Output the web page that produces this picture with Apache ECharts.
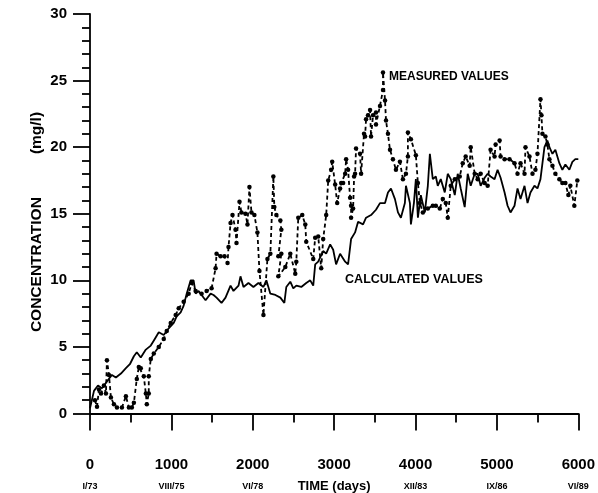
<!DOCTYPE html>
<html>
<head>
<meta charset="utf-8">
<script src="https://cdn.jsdelivr.net/npm/echarts@6/dist/echarts.min.js"></script>
<style>
html,body{margin:0;padding:0;background:#fff;}
#c{width:598px;height:493px;}
</style>
</head>
<body>
<div id="c"></div>
<script>
// ---- data ----
const calcDays = [0,49,98,147,208,269,318,380,441,490,539,575,624,686,747,796,845,906,967,1029,1065,1114,1151,1188,1237,1273,1298,1335,1371,1420,1482,1518,1555,1616,1665,1727,1763,1825,1849,1886,1947,2008,2069,2131,2167,2216,2278,2339,2388,2412,2461,2498,2535,2596,2657,2706,2743,2767,2804,2865,2902,2951,2988,3024,3073,3135,3171,3208,3257,3294,3355,3392,3453,3514,3563,3625,3661,3698,3747,3784,3820,3869,3882,3931,3943,3980,4004,4029,4065,4114,4151,4176,4212,4249,4273,4310,4359,4396,4433,4482,4518,4555,4604,4641,4678,4727,4763,4800,4849,4886,4922,4971,5008,5045,5094,5131,5167,5216,5253,5290,5339,5376,5412,5461,5498,5535,5584,5620,5645,5682,5718,5767,5804,5841,5890,5927,5963,6000];
const calcValues = [0.4,1.7,2.1,1.9,2.4,2.9,2.7,3.0,3.4,3.7,4.3,4.6,4.2,4.8,5.1,5.6,6.1,5.9,6.4,6.8,7.3,7.6,8.1,9.0,10.0,10.0,9.0,9.2,8.9,8.5,9.0,8.9,8.7,8.3,8.7,9.6,9.2,9.6,10.3,9.5,9.8,9.5,9.8,9.5,10.0,9.0,8.9,8.7,8.3,9.5,9.9,9.4,9.6,9.5,9.8,10.0,9.6,11.2,11.4,12.2,12.0,12.7,12.3,11.2,12.0,11.4,11.2,13.1,13.6,14.4,14.2,14.7,14.9,15.3,15.8,15.8,16.6,16.9,16.1,15.1,14.7,15.8,17.1,15.8,14.2,15.8,17.6,14.7,16.4,15.1,17.1,19.5,17.6,17.8,17.1,17.6,16.6,18.0,17.6,16.4,18.0,16.9,15.5,18.0,17.1,18.0,18.0,17.1,17.7,18.0,17.8,17.6,18.3,17.7,16.6,15.6,15.1,15.6,16.9,16.1,17.1,15.8,16.6,17.1,16.9,17.6,20.0,20.5,20.0,19.5,19.8,18.8,18.3,18.7,18.3,18.9,19.1,19.1];

const measDays = [61,86,110,135,171,196,208,233,257,294,331,392,441,478,514,539,575,600,624,661,686,698,722,722,747,784,845,906,943,992,1053,1090,1151,1212,1249,1298,1371,1433,1494,1543,1555,1604,1653,1690,1702,1727,1751,1788,1800,1837,1861,1910,1935,1959,1984,2020,2057,2082,2131,2180,2216,2253,2265,2290,2339,2351,2314,2351,2314,2400,2461,2522,2535,2559,2608,2645,2657,2743,2767,2804,2841,2865,2902,2927,2963,2976,3012,3037,3073,3086,3110,3135,3147,3171,3196,3208,3208,3233,3245,3257,3269,3318,3331,3367,3380,3392,3416,3441,3453,3478,3514,3514,3563,3600,3600,3625,3637,3661,3686,3722,3759,3808,3845,3882,3906,3906,3943,4004,4029,4053,4090,4151,4212,4249,4298,4335,4371,4396,4433,4482,4543,4580,4616,4665,4678,4727,4763,4800,4849,4886,4922,4971,4984,5033,5045,5094,5155,5216,5253,5290,5339,5351,5400,5437,5473,5498,5535,5547,5559,5596,5620,5645,5682,5718,5767,5804,5841,5878,5902,5951,5988];
const measValues = [1.0,0.5,1.8,1.5,2.1,1.5,4.0,2.9,1.2,0.7,0.45,0.45,1.3,0.45,0.45,0.8,2.6,3.5,3.4,2.8,1.5,0.7,1.5,2.8,4.1,4.5,5.0,5.6,6.2,6.8,7.4,7.9,8.4,9.0,9.8,9.2,9.0,9.2,9.4,10.9,12.0,11.8,11.8,11.3,12.5,14.3,14.9,13.8,12.8,15.9,15.1,15.0,14.2,17.0,15.1,14.9,13.6,10.7,7.4,11.6,12.0,17.8,15.5,14.9,14.5,13.8,11.8,12.0,10.3,11.0,12.0,10.5,11.4,14.7,14.9,14.2,12.9,11.6,13.2,13.3,10.9,13.1,14.9,17.5,18.3,18.9,17.2,15.8,16.9,17.3,17.3,18.0,19.1,18.3,16.2,15.6,14.7,15.4,17.8,18.0,19.9,19.5,18.0,21.0,20.8,22.1,22.4,22.8,20.8,22.4,22.6,21.7,23.1,24.3,25.6,23.5,22.0,21.0,19.8,19.1,18.3,18.9,17.6,18.0,19.3,21.1,20.6,19.4,17.3,15.8,15.1,15.4,15.6,15.6,15.4,16.1,15.8,14.7,17.1,17.6,17.8,18.8,19.3,18.6,20.0,18.0,17.6,18.0,17.3,17.1,19.8,19.3,20.2,20.5,19.3,19.1,19.1,18.8,18.0,18.8,18.0,20.0,19.3,18.0,18.3,19.5,23.6,22.4,21.0,20.8,20.2,19.1,18.6,18.0,17.6,17.3,17.3,16.4,17.1,15.6,17.5];

const xTicks = [0,1000,2000,3000,4000,5000,6000];
const dateLabels = ['I/73','VIII/75','VI/78','TIME (days)','XII/83','IX/86','VI/89'];
const yTitle = 'CONCENTRATION          (mg/l)';
const measLabel = 'MEASURED VALUES';
const calcLabel = 'CALCULATED VALUES';

// ---- chart ----
const FONT = '"Liberation Sans", Arial, sans-serif';
const chart = echarts.init(document.getElementById('c'), null, {renderer: 'canvas'});
const calcData = calcDays.map((d, i) => [d, calcValues[i]]);
const measData = measDays.map((d, i) => [d, measValues[i]]);

function axisCommon() {
  return {
    axisLine: {show: true, lineStyle: {color: '#000', width: 1.8}},
    axisTick: {show: true, length: 17, lineStyle: {color: '#000', width: 1.8}},
    splitLine: {show: false}
  };
}

const xCommon = axisCommon();
const yCommon = axisCommon();

chart.setOption({
  animation: false,
  backgroundColor: '#fff',
  grid: {left: 90, right: 17, top: 14, bottom: 70, containLabel: false},
  xAxis: Object.assign(xCommon, {
    type: 'value', min: 0, max: 6000, interval: 1000,
    minorTick: {show: true, splitNumber: 2, length: 9, lineStyle: {color: '#000', width: 1.8}},
    axisLabel: {
      margin: 41,
      formatter: function (v) {
        const i = xTicks.indexOf(v);
        if (i < 0) return '';
        const sub = dateLabels[i];
        return '{n|' + v + '}\n' + (v === 3000 ? '{t|' + sub + '}' : '{s|' + sub + '}');
      },
      rich: {
        n: {fontFamily: FONT, fontSize: 15, fontWeight: 'bold', color: '#000', lineHeight: 20},
        s: {fontFamily: FONT, fontSize: 9, fontWeight: 'bold', color: '#000', lineHeight: 24},
        t: {fontFamily: FONT, fontSize: 13, fontWeight: 'bold', color: '#000', lineHeight: 24}
      }
    }
  }),
  yAxis: Object.assign(yCommon, {
    type: 'value', min: 0, max: 30, interval: 5,
    minorTick: {show: true, splitNumber: 5, length: 8, lineStyle: {color: '#000', width: 1.8}},
    axisLabel: {margin: 23, fontFamily: FONT, fontSize: 15, fontWeight: 'bold', color: '#000'}
  }),
  graphic: [
    {type: 'text', x: 37, y: 222, rotation: Math.PI / 2,
     style: {text: yTitle, fontFamily: FONT, fontSize: 15.5, fontWeight: 'bold', fill: '#000', align: 'center', verticalAlign: 'middle'}}
  ],
  series: [
    {
      name: 'calculated', type: 'line', data: calcData, showSymbol: false, symbol: 'none',
      lineStyle: {color: '#000', width: 1.8}, z: 2, silent: true,
      markPoint: {
        symbol: 'rect', symbolSize: 0,
        label: {show: true, position: 'right', distance: 0, offset: [-3, 5], formatter: calcLabel, fontFamily: FONT, fontSize: 12.5, fontWeight: 'bold', color: '#000'},
        data: [{coord: [3171, 10.4]}]
      }
    },
    {
      name: 'measured', type: 'line', data: measData, showSymbol: true, symbol: 'circle', symbolSize: 4.5,
      itemStyle: {color: '#000'},
      lineStyle: {color: '#000', width: 1.8, type: [4, 3]}, z: 3, silent: true,
      markPoint: {
        symbol: 'rect', symbolSize: 0,
        label: {show: true, position: 'right', distance: 6, offset: [0, 4], formatter: measLabel, fontFamily: FONT, fontSize: 12, fontWeight: 'bold', color: '#000'},
        data: [{coord: [3600, 25.6]}]
      }
    }
  ]
});
</script>
</body>
</html>
